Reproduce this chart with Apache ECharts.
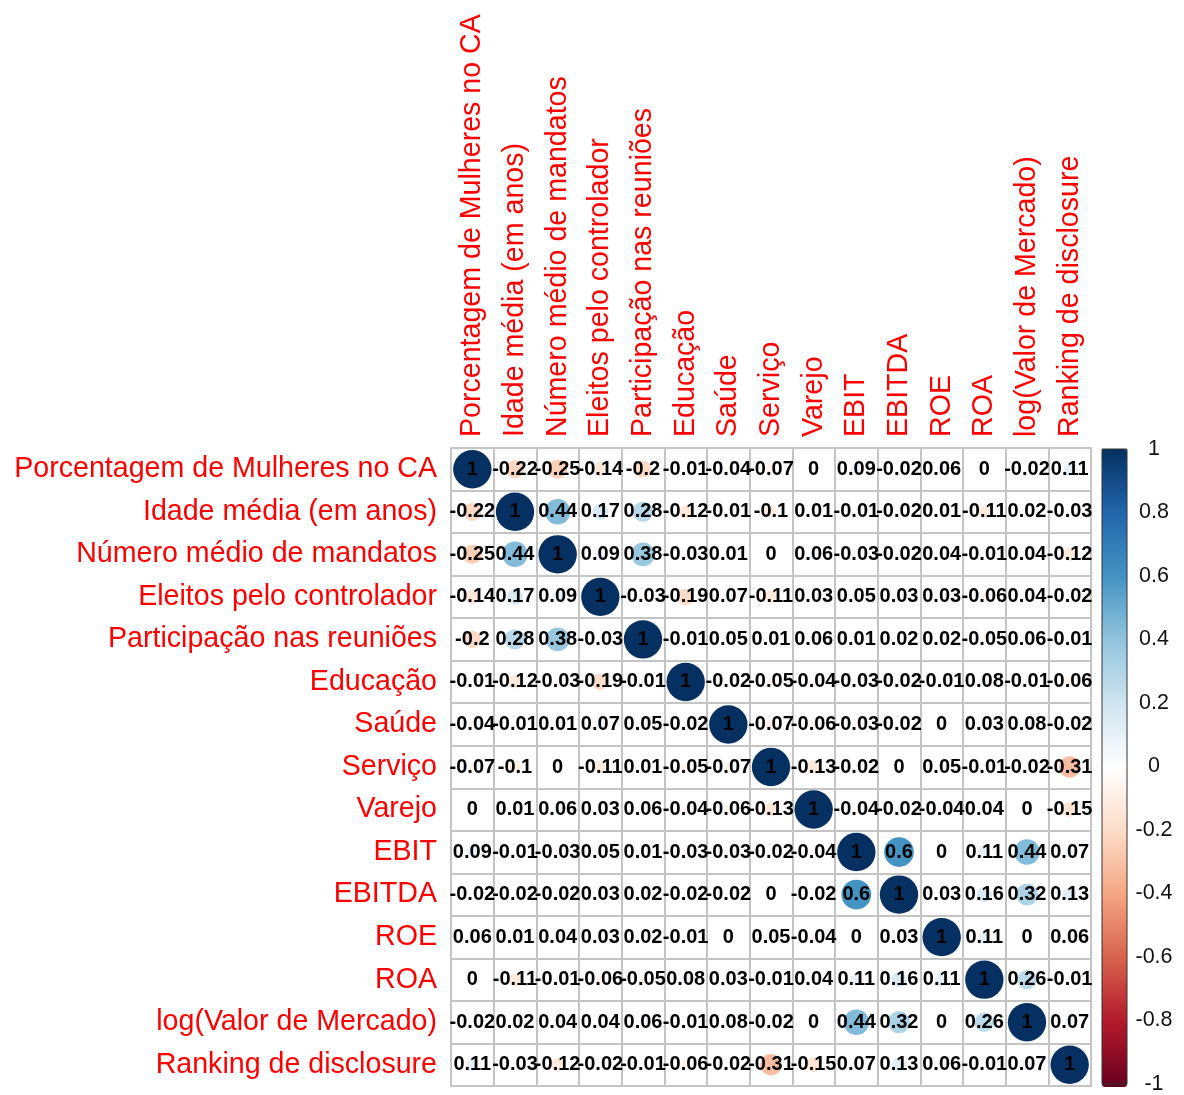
<!DOCTYPE html>
<html>
<head>
<meta charset="utf-8">
<script src="https://cdn.jsdelivr.net/npm/echarts@6/dist/echarts.min.js"></script>
<style>
  html, body { margin: 0; padding: 0; background: #ffffff; }
  #chart { width: 1184px; height: 1095px; }
</style>
</head>
<body>
<div id="chart"></div>
<script>
// Variable names (rows and columns of the correlation matrix)
const variables = [
  'Porcentagem de Mulheres no CA',
  'Idade média (em anos)',
  'Número médio de mandatos',
  'Eleitos pelo controlador',
  'Participação nas reuniões',
  'Educação',
  'Saúde',
  'Serviço',
  'Varejo',
  'EBIT',
  'EBITDA',
  'ROE',
  'ROA',
  'log(Valor de Mercado)',
  'Ranking de disclosure'
];

// Correlation coefficients, one row per variable
const corrMulheres     = [1, -0.22, -0.25, -0.14, -0.2, -0.01, -0.04, -0.07, 0, 0.09, -0.02, 0.06, 0, -0.02, 0.11];
const corrIdade        = [-0.22, 1, 0.44, 0.17, 0.28, -0.12, -0.01, -0.1, 0.01, -0.01, -0.02, 0.01, -0.11, 0.02, -0.03];
const corrMandatos     = [-0.25, 0.44, 1, 0.09, 0.38, -0.03, 0.01, 0, 0.06, -0.03, -0.02, 0.04, -0.01, 0.04, -0.12];
const corrControlador  = [-0.14, 0.17, 0.09, 1, -0.03, -0.19, 0.07, -0.11, 0.03, 0.05, 0.03, 0.03, -0.06, 0.04, -0.02];
const corrReunioes     = [-0.2, 0.28, 0.38, -0.03, 1, -0.01, 0.05, 0.01, 0.06, 0.01, 0.02, 0.02, -0.05, 0.06, -0.01];
const corrEducacao     = [-0.01, -0.12, -0.03, -0.19, -0.01, 1, -0.02, -0.05, -0.04, -0.03, -0.02, -0.01, 0.08, -0.01, -0.06];
const corrSaude        = [-0.04, -0.01, 0.01, 0.07, 0.05, -0.02, 1, -0.07, -0.06, -0.03, -0.02, 0, 0.03, 0.08, -0.02];
const corrServico      = [-0.07, -0.1, 0, -0.11, 0.01, -0.05, -0.07, 1, -0.13, -0.02, 0, 0.05, -0.01, -0.02, -0.31];
const corrVarejo       = [0, 0.01, 0.06, 0.03, 0.06, -0.04, -0.06, -0.13, 1, -0.04, -0.02, -0.04, 0.04, 0, -0.15];
const corrEbit         = [0.09, -0.01, -0.03, 0.05, 0.01, -0.03, -0.03, -0.02, -0.04, 1, 0.6, 0, 0.11, 0.44, 0.07];
const corrEbitda       = [-0.02, -0.02, -0.02, 0.03, 0.02, -0.02, -0.02, 0, -0.02, 0.6, 1, 0.03, 0.16, 0.32, 0.13];
const corrRoe          = [0.06, 0.01, 0.04, 0.03, 0.02, -0.01, 0, 0.05, -0.04, 0, 0.03, 1, 0.11, 0, 0.06];
const corrRoa          = [0, -0.11, -0.01, -0.06, -0.05, 0.08, 0.03, -0.01, 0.04, 0.11, 0.16, 0.11, 1, 0.26, -0.01];
const corrValorMercado = [-0.02, 0.02, 0.04, 0.04, 0.06, -0.01, 0.08, -0.02, 0, 0.44, 0.32, 0, 0.26, 1, 0.07];
const corrDisclosure   = [0.11, -0.03, -0.12, -0.02, -0.01, -0.06, -0.02, -0.31, -0.15, 0.07, 0.13, 0.06, -0.01, 0.07, 1];

// Colour bar scale
const scaleMin = -1;
const scaleMax = 1;
const scaleStep = 0.2;

// RdBu diverging palette, from -1 to 1
const palette = ['#67001F', '#B2182B', '#D6604D', '#F4A582', '#FDDBC7', '#FFFFFF',
                 '#D1E5F0', '#92C5DE', '#4393C3', '#2166AC', '#053061'];

const corrRows = [corrMulheres, corrIdade, corrMandatos, corrControlador, corrReunioes,
  corrEducacao, corrSaude, corrServico, corrVarejo, corrEbit, corrEbitda, corrRoe,
  corrRoa, corrValorMercado, corrDisclosure];

const cells = [];
corrRows.forEach((row, r) => {
  row.forEach((v, c) => { cells.push([c, r, v]); });
});

const grid = { left: 451, top: 448, width: 640, height: 638 };
const cellW = grid.width / variables.length;
const fontFamily = '"Liberation Sans", Arial, Helvetica, sans-serif';

const chart = echarts.init(document.getElementById('chart'), null, { renderer: 'canvas' });

chart.setOption({
  backgroundColor: '#ffffff',
  animation: false,
  grid: [
    Object.assign({ show: true, borderColor: '#c4c4c4', borderWidth: 2, backgroundColor: 'transparent', z: 1 }, grid),
    { left: 1102, top: 449, width: 25, height: 638, show: true, borderColor: '#333333', borderWidth: 1, backgroundColor: 'transparent', z: 6 }
  ],
  xAxis: [
    {
      type: 'category', gridIndex: 0, data: variables, position: 'top',
      axisLine: { show: false }, axisTick: { show: false },
      splitLine: { show: true, interval: 0, lineStyle: { color: '#c4c4c4', width: 2 } },
      axisLabel: { interval: 0, rotate: -90, margin: 11, color: '#ff0000', fontSize: 28.6, fontFamily: fontFamily }
    },
    { type: 'value', gridIndex: 1, show: false, min: 0, max: 1 }
  ],
  yAxis: [
    {
      type: 'category', gridIndex: 0, data: variables, inverse: true,
      axisLine: { show: false }, axisTick: { show: false },
      splitLine: { show: true, interval: 0, lineStyle: { color: '#c4c4c4', width: 2 } },
      axisLabel: { interval: 0, margin: 14, color: '#ff0000', fontSize: 28.6, fontFamily: fontFamily }
    },
    {
      type: 'value', gridIndex: 1, position: 'right', min: scaleMin, max: scaleMax, interval: scaleStep,
      axisLine: { show: false },
      axisTick: { show: true, length: 5, lineStyle: { color: '#333333', width: 1 } },
      splitLine: { show: false },
      axisLabel: {
        margin: 27, align: 'center', color: '#111111', fontSize: 21.5, fontFamily: fontFamily,
        formatter: v => String(+v.toFixed(1))
      }
    }
  ],
  visualMap: {
    type: 'continuous',
    seriesIndex: 0,
    dimension: 2,
    min: scaleMin,
    max: scaleMax,
    show: true,
    calculable: false,
    orient: 'vertical',
    left: 1102,
    top: 449,
    itemWidth: 25,
    itemHeight: 638,
    padding: 0,
    text: null,
    showLabel: false,
    hoverLink: false,
    inRange: { color: palette }
  },
  series: [
    {
      type: 'scatter',
      xAxisIndex: 0,
      yAxisIndex: 0,
      data: cells,
      symbol: 'circle',
      symbolSize: d => Math.max(0.01, 0.9 * cellW * Math.sqrt(Math.abs(d[2]))),
      itemStyle: { opacity: 1 },
      label: {
        show: true,
        position: 'inside',
        color: '#000000',
        fontWeight: 'bold',
        fontSize: 20,
        fontFamily: fontFamily,
        formatter: p => String(p.data[2])
      },
      emphasis: { disabled: true },
      z: 3
    }
  ]
});
</script>
</body>
</html>
